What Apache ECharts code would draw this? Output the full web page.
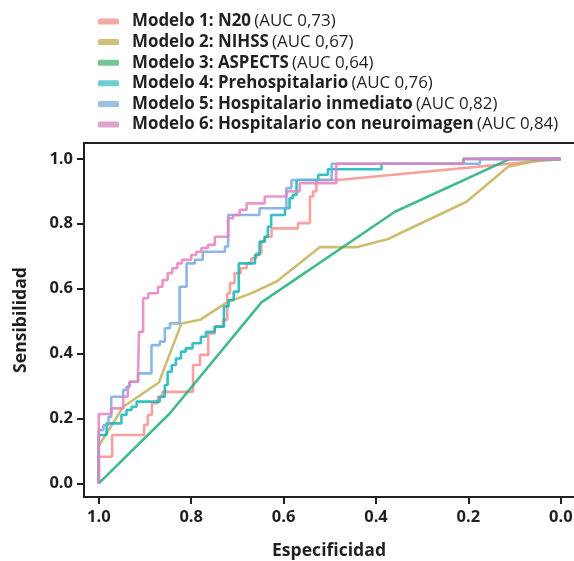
<!DOCTYPE html>
<html><head><meta charset="utf-8">
<script src="https://cdn.jsdelivr.net/npm/echarts@6/dist/echarts.min.js"></script>
<style>html,body{margin:0;padding:0;background:#fff}#c{width:574px;height:561px}</style>
</head><body><div id="c"></div>
<script>
// ---- data ----
const modelNames = ["Modelo 1: N20","Modelo 2: NIHSS","Modelo 3: ASPECTS","Modelo 4: Prehospitalario","Modelo 5: Hospitalario inmediato","Modelo 6: Hospitalario con neuroimagen"];
const aucLabels = ["(AUC 0,73)","(AUC 0,67)","(AUC 0,64)","(AUC 0,76)","(AUC 0,82)","(AUC 0,84)"];
const tickValues = [0,0.2,0.4,0.6,0.8,1.0];
// [especificidad, sensibilidad]
const m1 = [[1,0],[1,0.082],[0.971,0.082],[0.971,0.149],[0.902,0.149],[0.902,0.180],[0.894,0.180],[0.894,0.211],[0.885,0.211],[0.885,0.247],[0.872,0.247],[0.872,0.267],[0.862,0.267],[0.862,0.282],[0.796,0.282],[0.796,0.365],[0.781,0.365],[0.781,0.396],[0.763,0.396],[0.763,0.462],[0.749,0.462],[0.749,0.483],[0.731,0.483],[0.731,0.504],[0.722,0.504],[0.722,0.586],[0.716,0.586],[0.716,0.617],[0.706,0.617],[0.706,0.648],[0.693,0.648],[0.693,0.663],[0.680,0.663],[0.680,0.678],[0.670,0.678],[0.670,0.694],[0.659,0.694],[0.659,0.709],[0.648,0.709],[0.648,0.745],[0.641,0.745],[0.641,0.760],[0.626,0.760],[0.626,0.786],[0.569,0.786],[0.569,0.802],[0.543,0.802],[0.543,0.884],[0.536,0.884],[0.536,0.900],[0.529,0.900],[0.529,0.935],[0.482,0.935],[0,1]];
const m2 = [[1,0],[1,0.116],[0.947,0.236],[0.870,0.311],[0.821,0.493],[0.781,0.504],[0.720,0.560],[0.673,0.584],[0.615,0.622],[0.522,0.728],[0.442,0.728],[0.374,0.753],[0.204,0.868],[0.114,0.976],[0.045,0.997],[0,1]];
const m3 = [[1,0],[0.846,0.216],[0.648,0.558],[0.359,0.837],[0.110,1],[0,1]];
const m4 = [[1,0],[1,0.149],[0.983,0.149],[0.983,0.185],[0.951,0.185],[0.951,0.211],[0.940,0.211],[0.940,0.226],[0.929,0.226],[0.929,0.236],[0.918,0.236],[0.918,0.252],[0.868,0.252],[0.868,0.267],[0.857,0.267],[0.857,0.303],[0.851,0.303],[0.851,0.344],[0.842,0.344],[0.842,0.365],[0.833,0.365],[0.833,0.385],[0.822,0.385],[0.822,0.406],[0.812,0.406],[0.812,0.416],[0.797,0.416],[0.797,0.432],[0.779,0.432],[0.779,0.452],[0.768,0.452],[0.768,0.467],[0.749,0.467],[0.749,0.483],[0.729,0.483],[0.729,0.545],[0.719,0.545],[0.719,0.565],[0.708,0.565],[0.708,0.591],[0.697,0.591],[0.697,0.678],[0.662,0.678],[0.662,0.704],[0.652,0.704],[0.652,0.745],[0.641,0.745],[0.641,0.760],[0.634,0.760],[0.634,0.791],[0.627,0.791],[0.627,0.827],[0.597,0.827],[0.597,0.848],[0.587,0.848],[0.587,0.879],[0.580,0.879],[0.580,0.889],[0.572,0.889],[0.572,0.935],[0.525,0.935],[0.525,0.951],[0.504,0.951],[0.504,0.968],[0.388,0.968],[0.388,0.985],[0.211,0.985],[0.211,1],[0,1]];
const m5 = [[1,0],[1,0.164],[0.990,0.164],[0.990,0.180],[0.979,0.180],[0.979,0.205],[0.973,0.205],[0.973,0.267],[0.947,0.267],[0.947,0.288],[0.940,0.288],[0.940,0.298],[0.933,0.298],[0.933,0.313],[0.915,0.313],[0.915,0.339],[0.886,0.339],[0.886,0.426],[0.868,0.426],[0.868,0.437],[0.857,0.437],[0.857,0.478],[0.846,0.478],[0.846,0.493],[0.825,0.493],[0.825,0.606],[0.810,0.606],[0.810,0.678],[0.792,0.678],[0.792,0.689],[0.775,0.689],[0.775,0.714],[0.727,0.714],[0.727,0.730],[0.720,0.730],[0.720,0.827],[0.652,0.827],[0.652,0.848],[0.594,0.848],[0.594,0.910],[0.583,0.910],[0.583,0.935],[0.496,0.935],[0.496,0.985],[0.175,0.985],[0.175,1],[0,1]];
const m6 = [[1,0],[1,0.214],[0.973,0.214],[0.973,0.231],[0.947,0.231],[0.947,0.267],[0.937,0.267],[0.937,0.288],[0.933,0.288],[0.933,0.313],[0.915,0.313],[0.915,0.339],[0.913,0.339],[0.913,0.467],[0.904,0.467],[0.904,0.571],[0.893,0.571],[0.893,0.586],[0.872,0.586],[0.872,0.606],[0.862,0.606],[0.862,0.627],[0.851,0.627],[0.851,0.648],[0.841,0.648],[0.841,0.663],[0.830,0.663],[0.830,0.678],[0.820,0.678],[0.820,0.689],[0.800,0.689],[0.800,0.704],[0.789,0.704],[0.789,0.714],[0.778,0.714],[0.778,0.725],[0.764,0.725],[0.764,0.735],[0.749,0.735],[0.749,0.760],[0.720,0.760],[0.720,0.817],[0.709,0.817],[0.709,0.827],[0.695,0.827],[0.695,0.843],[0.680,0.843],[0.680,0.863],[0.641,0.863],[0.641,0.884],[0.594,0.884],[0.594,0.900],[0.565,0.900],[0.565,0.925],[0.486,0.925],[0.486,0.985],[0.211,0.985],[0.211,1],[0,1]];
const seriesData = [m1,m2,m3,m4,m5,m6];
const lineColors = ["#F7908E","#C4B15A","#1FAF78","#0FB6BA","#78A9DE","#E583BF"];
const legendColors = ["#F5A8A4","#CBC07C","#72C794","#6ECED2","#9CBFE6","#DFA3CD"];

const ink = "#231F20";
const font = "Open Sans";
const chart = echarts.init(document.getElementById('c'));
const xMin = -0.0286, xMax = 1.032, yMin = -0.042, yMax = 1.049;
chart.setOption({
  animation:false,
  backgroundColor:'#fff',
  grid:{left:84, top:143, right:0, bottom:64, outerBoundsMode:'none', containLabel:false},
  legend:{
    orient:'vertical', left:93, top:8, itemWidth:21, itemHeight:6, icon:'roundRect', itemGap:3.6,
    data: modelNames.map((n,i)=>({name:n, itemStyle:{color:legendColors[i]}})),
    formatter: n => { const i = modelNames.indexOf(n); return '{b|'+n+'} {n|'+aucLabels[i]+'}'; },
    textStyle:{ padding:[0,0,0,8], lineHeight:16, height:16, rich:{
      b:{fontFamily:font, fontWeight:'bold', fontSize:16.9, color:ink, lineHeight:16},
      n:{fontFamily:font, fontWeight:'normal', fontSize:16.9, color:ink, lineHeight:16}
    }}
  },
  xAxis:[{
    type:'value', inverse:true, min:xMin, max:xMax,
    name:'Especificidad', nameLocation:'middle', nameGap:45,
    nameTextStyle:{fontFamily:font, fontWeight:'bold', fontSize:17.6, color:ink},
    axisLine:{show:true, onZero:false, lineStyle:{color:ink, width:2}},
    axisTick:{show:true, length:7, lineStyle:{color:ink, width:2}, customValues:tickValues},
    axisLabel:{fontFamily:font, fontWeight:'bold', fontSize:16.5, color:ink, margin:12, customValues:tickValues, formatter:v=>v.toFixed(1)},
    splitLine:{show:false}
  },{
    type:'value', inverse:true, min:xMin, max:xMax, position:'top',
    axisLine:{show:true, onZero:false, lineStyle:{color:ink, width:2}},
    axisTick:{show:false}, axisLabel:{show:false}, splitLine:{show:false}
  }],
  yAxis:{
    type:'value', min:yMin, max:yMax,
    name:'Sensibilidad', nameLocation:'middle', nameGap:54,
    nameTextStyle:{fontFamily:font, fontWeight:'bold', fontSize:17.6, color:ink},
    axisLine:{show:true, onZero:false, lineStyle:{color:ink, width:2}},
    axisTick:{show:true, length:7, lineStyle:{color:ink, width:2}, customValues:tickValues},
    axisLabel:{fontFamily:font, fontWeight:'bold', fontSize:16.5, color:ink, margin:11, customValues:tickValues, formatter:v=>v.toFixed(1)},
    splitLine:{show:false}
  },
  series: seriesData.map((d,i)=>({
    name:modelNames[i], type:'line', data:d, xAxisIndex:0, showSymbol:false, symbol:'none', silent:true,
    color:lineColors[i],
    lineStyle:{color:lineColors[i], width:2.6, opacity:0.85}
  }))
});
</script></body></html>
